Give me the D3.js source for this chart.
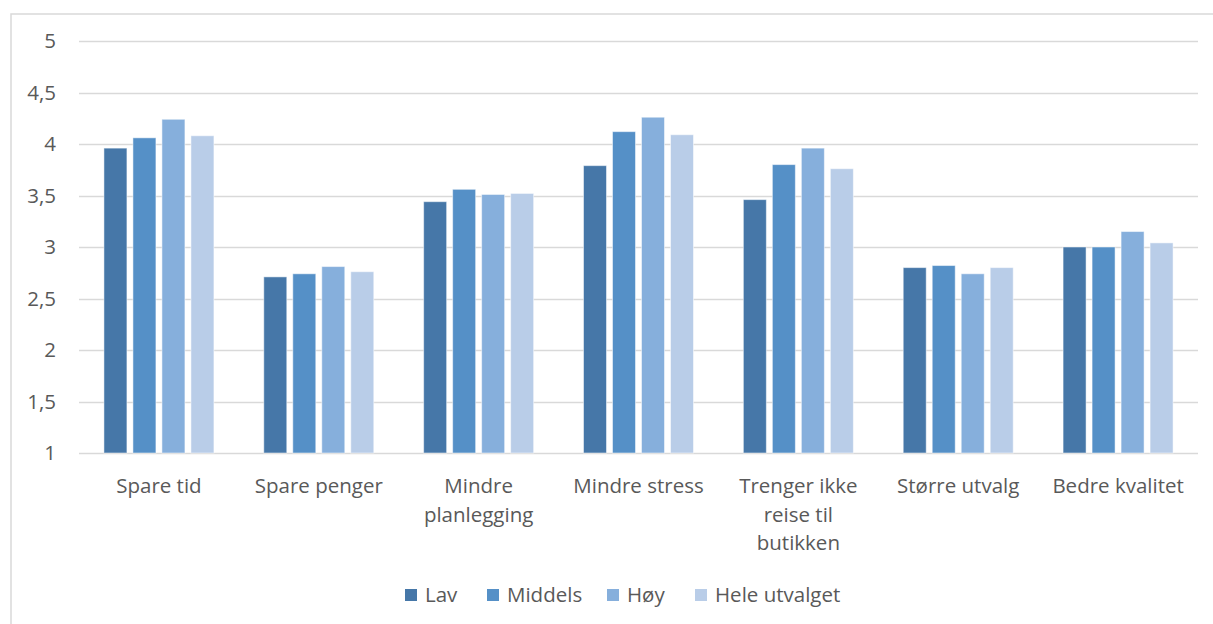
<!DOCTYPE html>
<html>
<head>
<meta charset="utf-8">
<script src="https://cdn.jsdelivr.net/npm/d3@7"></script>
<style>
  html, body { margin: 0; padding: 0; background: #fff; }
  svg { display: block; }
  text { font-family: "Open Sans", sans-serif; fill: #595959; }
</style>
</head>
<body>
<svg id="chart" width="1213" height="624"></svg>
<script>
// Reasons for shopping online, mean score per group
const categories = [
  ["Spare tid"],
  ["Spare penger"],
  ["Mindre", "planlegging"],
  ["Mindre stress"],
  ["Trenger ikke", "reise til", "butikken"],
  ["Større utvalg"],
  ["Bedre kvalitet"]
];
const seriesNames = ["Lav", "Middels", "Høy", "Hele utvalget"];
const lav     = [3.96, 2.71, 3.44, 3.79, 3.46, 2.80, 3.00];
const middels = [4.06, 2.74, 3.56, 4.12, 3.80, 2.82, 3.00];
const hoy     = [4.24, 2.81, 3.51, 4.26, 3.96, 2.74, 3.15];
const hele    = [4.08, 2.76, 3.52, 4.09, 3.76, 2.80, 3.04];
const yTicks  = [1, 1.5, 2, 2.5, 3, 3.5, 4, 4.5, 5];
const colors  = ["#4677a8", "#5590c7", "#86afdc", "#b9cde8"];

const seriesValues = [lav, middels, hoy, hele];
const catKeys = categories.map(c => c.join(" "));
const fontSize = 20.5;

const svg = d3.select("#chart");

// Outer chart frame
svg.append("rect")
  .attr("x", 11).attr("y", 14)
  .attr("width", 1240).attr("height", 640)
  .attr("fill", "none").attr("stroke", "#d9d9d9").attr("stroke-width", 1.5);

const plot = { left: 79, right: 1198, top: 41, bottom: 453 };

const y = d3.scaleLinear().domain([1, 5]).range([plot.bottom, plot.top]);
const x0 = d3.scaleBand().domain(catKeys).range([plot.left, plot.right]).padding(0);
const x1 = d3.scaleBand().domain(seriesNames).range([0, 110]).paddingInner(0.207);
const groupOffset = (x0.bandwidth() - 110) / 2;

// Gridlines
svg.append("g").selectAll("line").data(yTicks).join("line")
  .attr("x1", plot.left).attr("x2", plot.right)
  .attr("y1", d => Math.round(y(d)) + 0.5).attr("y2", d => Math.round(y(d)) + 0.5)
  .attr("stroke", "#d9d9d9").attr("stroke-width", 1.5);

// Y axis labels
const fmt = d => String(d).replace(".", ",");
svg.append("g").selectAll("text").data(yTicks).join("text")
  .attr("x", 56).attr("y", d => y(d))
  .attr("dy", "0.35em")
  .attr("text-anchor", "end")
  .attr("font-size", fontSize)
  .text(fmt);

// Bars
const groups = svg.append("g").selectAll("g").data(catKeys).join("g")
  .attr("transform", d => `translate(${x0(d) + groupOffset},0)`);

groups.selectAll("rect")
  .data((d, ci) => seriesNames.map((s, si) => ({ s, si, v: seriesValues[si][ci] })))
  .join("rect")
  .attr("x", d => x1(d.s))
  .attr("width", x1.bandwidth())
  .attr("y", d => y(d.v))
  .attr("height", d => y(1) - y(d.v))
  .attr("fill", d => colors[d.si])
  .attr("stroke", "#ffffff").attr("stroke-opacity", 0.5).attr("stroke-width", 1);

// Category labels (wrapped lines)
const catLabels = svg.append("g").selectAll("text").data(categories).join("text")
  .attr("text-anchor", "middle")
  .attr("font-size", fontSize)
  .attr("x", (d, i) => x0(catKeys[i]) + x0.bandwidth() / 2)
  .attr("y", 493);
catLabels.selectAll("tspan").data(d => d).join("tspan")
  .attr("x", function () { return this.parentNode.getAttribute("x"); })
  .attr("dy", (d, i) => i === 0 ? 0 : 28.5)
  .text(d => d);

// Legend
const legendX = [405, 487, 607, 695];
const legend = svg.append("g").selectAll("g").data(seriesNames).join("g")
  .attr("transform", (d, i) => `translate(${legendX[i]},589)`);
legend.append("rect")
  .attr("width", 12).attr("height", 12)
  .attr("fill", (d, i) => colors[i]);
legend.append("text")
  .attr("x", 20).attr("y", 6).attr("dy", "0.35em")
  .attr("font-size", fontSize)
  .text(d => d);
</script>
</body>
</html>
